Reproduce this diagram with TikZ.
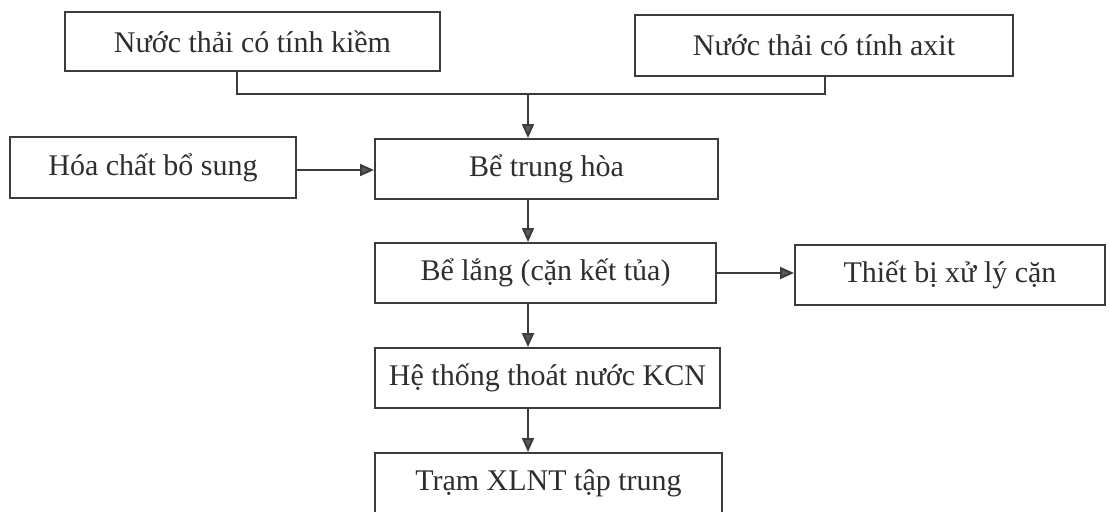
\documentclass[tikz,border=0pt]{standalone}
\usepackage{fontspec}
\setmainfont{Liberation Serif}
\usetikzlibrary{arrows.meta,calc}
\definecolor{ink}{HTML}{2E2E2E}
\definecolor{linegray}{HTML}{3C3C3C}
\definecolor{headgray}{HTML}{5A5A5A}
\tikzset{
  box/.style={draw=linegray, line width=2pt, rectangle, inner sep=0pt,
    text=ink, font=\fontsize{30}{34}\selectfont},
  link/.style={draw=linegray, line width=2pt},
  flow/.style={link, -{Triangle[length=14pt,width=12pt,fill=headgray]}},
}
\begin{document}
\begin{tikzpicture}[x=1pt,y=-1pt]
  \useasboundingbox (0,0) rectangle (1110,511);

  % source streams
  \node[box, minimum width=375, minimum height=59] (alk) at (252.5,41.5) {Nước thải có tính kiềm};
  \node[box, minimum width=378, minimum height=61] (acid) at (824,45.5) {Nước thải có tính axit};

  % neutralisation stage
  \node[box, minimum width=286, minimum height=61] (chem) at (153,167.5) {Hóa chất bổ sung};
  \node[box, minimum width=343, minimum height=60] (neut) at (546.5,169) {Bể trung hòa};

  % settling and sludge handling
  \node[box, minimum width=341, minimum height=60] (settle) at (545.5,273) {Bể lắng (cặn kết tủa)};
  \node[box, minimum width=310, minimum height=60] (sludge) at (950,275) {Thiết bị xử lý cặn};

  % discharge
  \node[box, minimum width=345, minimum height=60] (drain) at (547.5,378) {Hệ thống thoát nước KCN};
  \node[box, minimum width=347, minimum height=60] (plant) at (548.5,483) {Trạm XLNT tập trung};

  % routing points
  \coordinate (colA) at (237,0);
  \coordinate (join) at (528,94);
  \coordinate (joinR) at (825,94);
  \coordinate (rowC) at (0,170);

  % merge the two streams
  \draw[link] (alk.south -| colA) |- (joinR) -- (acid.south -| joinR);
  \draw[flow] (join) -- (neut.north -| join);

  % main line
  \draw[flow] (chem.east |- rowC) -- (neut.west |- rowC);
  \draw[flow] (neut.south -| join) -- (settle.north -| join);
  \draw[flow] (settle.east) -- (sludge.west |- settle.east);
  \draw[flow] (settle.south -| join) -- (drain.north -| join);
  \draw[flow] (drain.south -| join) -- (plant.north -| join);
\end{tikzpicture}
\end{document}
